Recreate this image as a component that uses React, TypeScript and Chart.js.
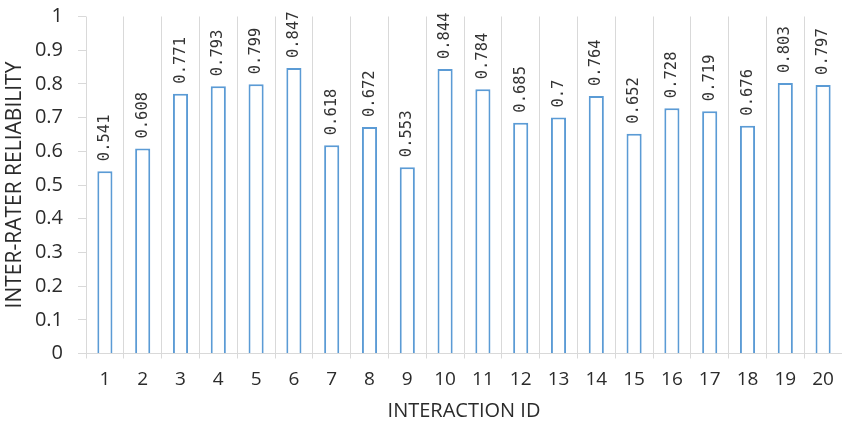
import { useEffect, useRef } from "react";
import { Chart, registerables } from "chart.js";

Chart.register(...registerables);

// Interaction identifiers along the x axis
const interactionIds = [
  "1", "2", "3", "4", "5", "6", "7", "8", "9", "10",
  "11", "12", "13", "14", "15", "16", "17", "18", "19", "20",
];

// Inter-rater reliability per interaction
const reliability = [
  0.541, 0.608, 0.771, 0.793, 0.799, 0.847, 0.618, 0.672, 0.553, 0.844,
  0.784, 0.685, 0.7, 0.764, 0.652, 0.728, 0.719, 0.676, 0.803, 0.797,
];

const axisTitleY = "INTER-RATER RELIABILITY";
const axisTitleX = "INTERACTION ID";

const TEXT = "#2b2b2b";
const GRID = "#d9d9d9";
const BAR = "#5b9bd5";

// Writes each bar's value vertically just above the bar
const valueLabels = {
  id: "valueLabels",
  afterDatasetsDraw(chart: any) {
    const ctx = chart.ctx as CanvasRenderingContext2D;
    const meta = chart.getDatasetMeta(0);
    ctx.save();
    ctx.font = "15.5px 'DejaVu Sans Mono', monospace";
    ctx.fillStyle = "#333333";
    ctx.textAlign = "left";
    ctx.textBaseline = "middle";
    meta.data.forEach((bar: any, i: number) => {
      ctx.save();
      ctx.translate(bar.x, bar.y - 10);
      ctx.rotate(-Math.PI / 2);
      ctx.fillText(String(reliability[i]), 0, 0);
      ctx.restore();
    });
    ctx.restore();
  },
};

export default function App() {
  const canvasRef = useRef<HTMLCanvasElement | null>(null);

  useEffect(() => {
    const canvas = canvasRef.current;
    if (!canvas) return;
    const chart = new Chart(canvas, {
      type: "bar",
      data: {
        labels: interactionIds,
        datasets: [
          {
            data: reliability,
            backgroundColor: "#ffffff",
            borderColor: BAR,
            borderWidth: 2,
            categoryPercentage: 1,
            barPercentage: 0.4,
          },
        ],
      },
      options: {
        responsive: false,
        animation: false,
        layout: { padding: { top: 16.5, right: 0, bottom: 0, left: 0 } },
        plugins: {
          legend: { display: false },
          tooltip: { enabled: false },
        },
        scales: {
          x: {
            grid: {
              offset: true,
              color: GRID,
              lineWidth: 1,
              tickLength: 5,
            },
            border: { display: true, color: GRID },
            ticks: {
              color: TEXT,
              padding: 10,
              font: { family: "'Open Sans', sans-serif", size: 19 },
            },
            title: {
              display: true,
              text: axisTitleX,
              color: TEXT,
              padding: { top: 0, bottom: 0 },
              font: { family: "'Open Sans', sans-serif", size: 20 },
            },
            afterFit(scale: any) {
              scale.height = 69.5;
              scale.paddingLeft = 0;
              scale.paddingRight = 0;
            },
          },
          y: {
            min: 0,
            max: 1,
            ticks: {
              stepSize: 0.1,
              color: TEXT,
              padding: 15,
              font: { family: "'Open Sans', sans-serif", size: 20 },
              callback: (value: any) => String(+Number(value).toFixed(1)),
            },
            grid: {
              drawOnChartArea: false,
              color: GRID,
              tickLength: 8,
            },
            border: { display: false },
            title: {
              display: true,
              text: axisTitleY,
              color: TEXT,
              padding: { top: 2, bottom: 0 },
              font: { family: "'Open Sans', sans-serif", size: 21 },
            },
            afterFit(scale: any) {
              scale.width = 86;
              scale.paddingTop = 0;
              scale.paddingBottom = 0;
            },
          },
        },
      },
      plugins: [valueLabels],
    });
    return () => chart.destroy();
  }, []);

  return (
    <div style={{ position: "fixed", left: 0, top: 0, width: 842, height: 423, background: "#fff" }}>
      <canvas ref={canvasRef} width={842} height={423} style={{ display: "block" }} />
    </div>
  );
}
